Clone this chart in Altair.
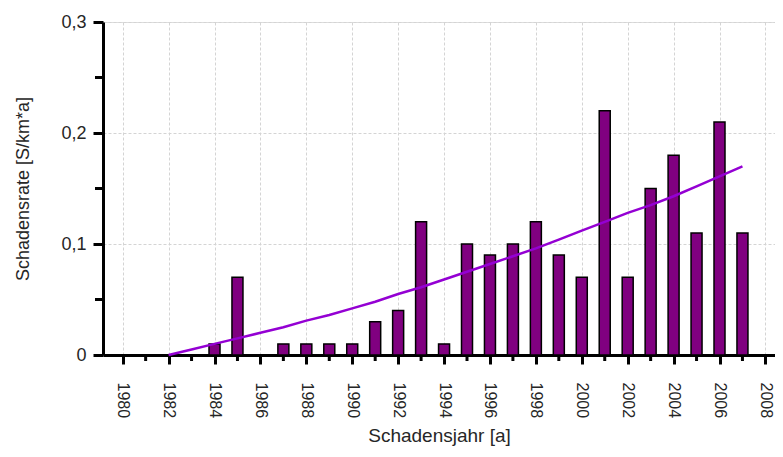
import altair as alt
import pandas as pd

# Bar data: damage rate per year
years = list(range(1984, 2008))
rates = [0.01, 0.07, 0.0, 0.01, 0.01, 0.01, 0.01, 0.03, 0.04, 0.12, 0.01, 0.10,
         0.09, 0.10, 0.12, 0.09, 0.07, 0.22, 0.07, 0.15, 0.18, 0.11, 0.21, 0.11]

# Trend line
trend_years = list(range(1982, 2008))
trend_vals = [0.0, 0.005, 0.010, 0.015, 0.020, 0.025, 0.031, 0.036, 0.042, 0.048,
              0.055, 0.061, 0.068, 0.075, 0.082, 0.089, 0.096, 0.104, 0.112, 0.120,
              0.128, 0.135, 0.143, 0.152, 0.161, 0.170]

x_major = list(range(1980, 2009, 2))
x_minor = list(range(1981, 2009, 2))
y_major = [0, 0.1, 0.2, 0.3]
y_minor = [0.05, 0.15, 0.25]

bars_df = pd.DataFrame({"year": years, "rate": rates})
bars_df = bars_df[bars_df["rate"] > 0]
trend_df = pd.DataFrame({"year": trend_years, "trend": trend_vals})
xminor_df = pd.DataFrame({"year": x_minor})
yminor_df = pd.DataFrame({"v": y_minor})

FONT = "Liberation Sans"
TXT = "#262626"

xscale = alt.Scale(domain=[1979.36, 2008.2], nice=False, zero=False)
yscale = alt.Scale(domain=[0, 0.3], nice=False)

xaxis = alt.Axis(
    title="Schadensjahr [a]", values=x_major, format="d",
    labelAngle=90, labelAlign="left", labelBaseline="middle", labelPadding=18,
    labelFontSize=16, titleFontSize=19, titlePadding=9,
    labelFont=FONT, titleFont=FONT, labelColor=TXT, titleColor=TXT, titleFontWeight="normal",
    domainColor="black", domainWidth=3, tickColor="black", tickWidth=3, tickSize=9,
    grid=True, gridColor="#d4d4d4", gridDash=[3, 2], gridWidth=1,
)
yaxis = alt.Axis(
    title="Schadensrate [S/km*a]", values=y_major,
    labelExpr="replace(format(datum.value, '.1~f'), '.', ',')",
    labelFontSize=18, titleFontSize=18, labelPadding=7, titlePadding=28,
    labelFont=FONT, titleFont=FONT, labelColor=TXT, titleColor=TXT, titleFontWeight="normal",
    domainColor="black", domainWidth=3, tickColor="black", tickWidth=3, tickSize=10,
    grid=True, gridColor="#d4d4d4", gridDash=[3, 2], gridWidth=1,
)

bars = alt.Chart(bars_df).mark_bar(size=11, color="#800080", stroke="black", strokeWidth=1.5).encode(
    x=alt.X("year:Q", scale=xscale, axis=xaxis),
    y=alt.Y("rate:Q", scale=yscale, axis=yaxis),
)

line = alt.Chart(trend_df).mark_line(color="#9400D3", strokeWidth=2.5).encode(
    x=alt.X("year:Q", scale=xscale),
    y=alt.Y("trend:Q", scale=yscale),
)

xminor = alt.Chart(xminor_df).mark_rule(color="black", strokeWidth=3).encode(
    x=alt.X("year:Q", scale=xscale),
    y=alt.value(333), y2=alt.value(339),
)

yminor = alt.Chart(yminor_df).mark_rule(color="black", strokeWidth=3).encode(
    y=alt.Y("v:Q", scale=yscale),
    x=alt.value(-8), x2=alt.value(0),
)

chart = alt.layer(bars, line, xminor, yminor).properties(
    width=672, height=333,
    autosize=alt.AutoSizeParams(type="none"),
    padding={"left": 95, "top": 14, "right": 0, "bottom": 93},
).configure_view(stroke=None).configure(background="white")

chart.save("out.html", embed_options={"renderer": "svg", "actions": False})
